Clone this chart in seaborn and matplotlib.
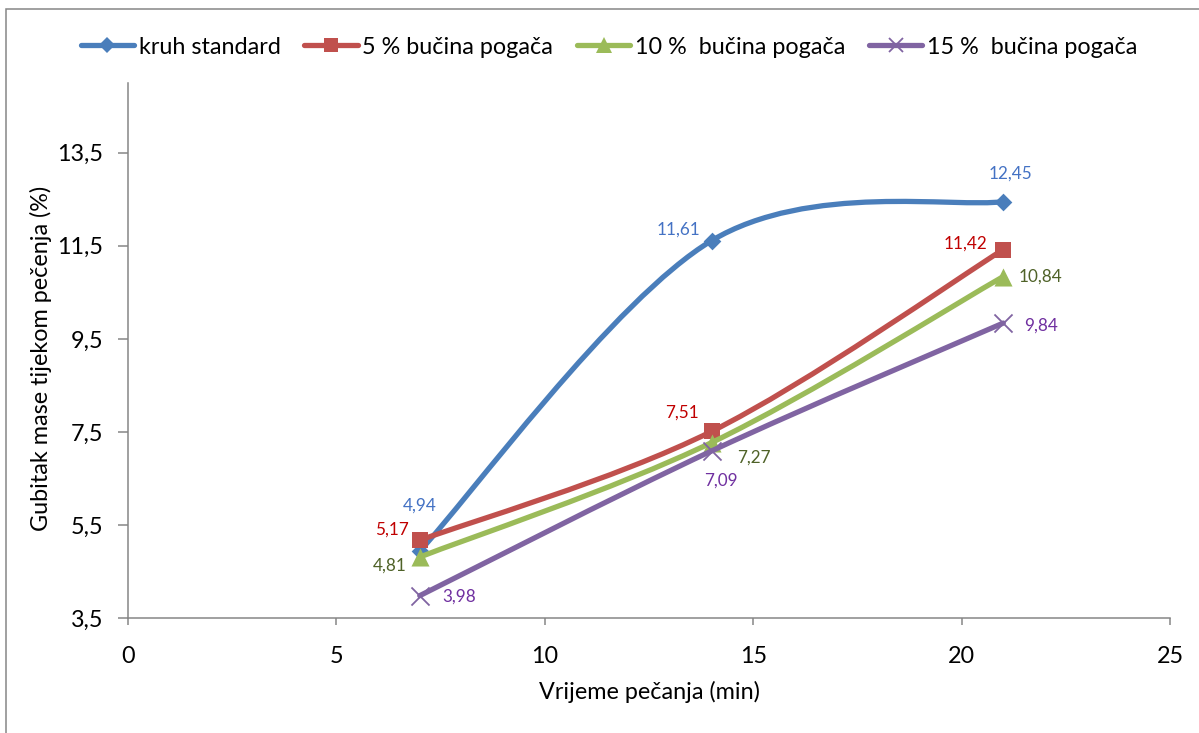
import matplotlib
matplotlib.use("Agg")
import matplotlib.pyplot as plt
import seaborn as sns
import numpy as np
from matplotlib.path import Path
from matplotlib.patches import PathPatch, Rectangle
from matplotlib.lines import Line2D
from matplotlib.ticker import FuncFormatter

# ---------------- data ----------------
baking_time = [7, 14, 21]
series_labels = ["kruh standard", "5 % bučina pogača", "10 %  bučina pogača", "15 %  bučina pogača"]
kruh_standard = [4.94, 11.61, 12.45]
pogaca_5 = [5.17, 7.51, 11.42]
pogaca_10 = [4.81, 7.27, 10.84]
pogaca_15 = [3.98, 7.09, 9.84]
y_ticks = [3.5, 5.5, 7.5, 9.5, 11.5, 13.5]
x_ticks = [0, 5, 10, 15, 20, 25]
x_label = "Vrijeme pečanja (min)"
y_label = "Gubitak mase tijekom pečenja (%)"

# ---------------- style ----------------
sns.set_theme(style="white")
plt.rcParams["font.family"] = ["Lato", "DejaVu Sans"]

series_values = [kruh_standard, pogaca_5, pogaca_10, pogaca_15]
line_colors = ["#4A7EBB", "#C0504D", "#9BBB59", "#8064A2"]
label_colors = ["#4472C4", "#C00000", "#4F6228", "#7030A0"]
markers = ["D", "s", "^", "x"]
marker_sizes = [9, 12, 13, 13]
# label offsets in pixels (dx, dy) relative to each point
label_offsets = [
    [(0, 45), (-33, 11), (7, 28)],
    [(-28, 11), (-30, 19), (-38, 6)],
    [(-30, -9), (42, -15), (37, 0)],
    [(39, -1), (9, -30), (38, -3)],
]
axis_gray = "#868686"
fs = 16.8

fig = plt.figure(figsize=(11.99, 7.33), dpi=100)
ax = fig.add_axes([128 / 1199, 1 - 618 / 733, (1170 - 128) / 1199, (618 - 83) / 733])


def smooth_path(xs, ys):
    pts = np.column_stack([xs, ys]).astype(float)
    n = len(pts)
    verts = [pts[0]]
    codes = [Path.MOVETO]
    for i in range(n - 1):
        p0 = pts[max(i - 1, 0)]
        p1 = pts[i]
        p2 = pts[i + 1]
        p3 = pts[min(i + 2, n - 1)]
        verts += [p1 + (p2 - p0) / 6.0, p2 - (p3 - p1) / 6.0, p2]
        codes += [Path.CURVE4] * 3
    return Path(verts, codes)


handles = []
for i, (vals, col, mk, ms) in enumerate(zip(series_values, line_colors, markers, marker_sizes)):
    patch = PathPatch(smooth_path(baking_time, vals), facecolor="none", edgecolor=col,
                      lw=3.8, capstyle="round", joinstyle="round", zorder=2 + 2 * i)
    ax.add_patch(patch)
    if mk == "x":
        sns.scatterplot(x=baking_time, y=vals, marker=mk, s=ms ** 2, color=col,
                        linewidth=1.3, ax=ax, zorder=3 + 2 * i, legend=False)
    else:
        sns.scatterplot(x=baking_time, y=vals, marker=mk, s=ms ** 2, color=col,
                        edgecolor=col, linewidth=0, ax=ax, zorder=3 + 2 * i, legend=False)
    for xv, yv, off in zip(baking_time, vals, label_offsets[i]):
        ax.annotate(f"{yv:.2f}".replace(".", ","), (xv, yv), xytext=off,
                    textcoords="offset pixels", ha="center", va="center",
                    color=label_colors[i], fontsize=12.3, zorder=20)
    handles.append(Line2D([0], [0], color=col, lw=3.8, marker=mk,
                          markersize=ms * (0.85 if mk != "x" else 0.8),
                          markeredgewidth=(1.3 if mk == "x" else 0),
                          solid_capstyle="round"))

ax.set_xlim(0, 25)
ax.set_ylim(3.5, 15)
ax.set_xticks(x_ticks)
ax.set_yticks(y_ticks)
ax.yaxis.set_major_formatter(FuncFormatter(lambda v, p: f"{v:.1f}".replace(".", ",")))

for side in ["top", "right"]:
    ax.spines[side].set_visible(False)
for side in ["left", "bottom"]:
    ax.spines[side].set_color(axis_gray)
    ax.spines[side].set_linewidth(1.1)

ax.tick_params(axis="y", direction="out", length=7, width=1.1, color=axis_gray,
               pad=11, labelsize=fs, labelcolor="black", left=True)
ax.tick_params(axis="x", direction="out", length=5, width=1.1, color=axis_gray,
               pad=15, labelsize=fs, labelcolor="black", bottom=True)

ax.set_xlabel(x_label, fontsize=fs, color="black")
ax.set_ylabel(y_label, fontsize=fs, color="black")
ax.xaxis.set_label_coords(0.5, -0.118)
ax.yaxis.set_label_coords(-0.073, 0.486)

leg = fig.legend(handles, series_labels, loc="center", bbox_to_anchor=(609 / 1199, 1 - 47 / 733),
                 ncol=4, frameon=False, fontsize=fs, handlelength=2.3, handletextpad=0.2,
                 columnspacing=1.0, borderaxespad=0)
for t in leg.get_texts():
    t.set_color("black")

border = Rectangle((6 / 1199, -0.1), 1.2, 1.1 - 9.5 / 733, transform=fig.transFigure,
                   fill=False, edgecolor=axis_gray, lw=1.1, clip_on=False)
fig.patches.append(border)

fig.savefig("out.png", dpi=100)
